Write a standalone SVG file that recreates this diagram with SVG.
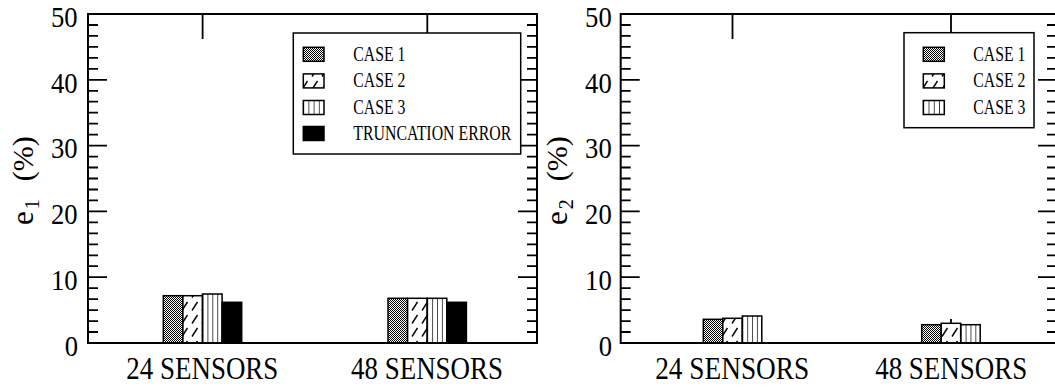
<svg xmlns="http://www.w3.org/2000/svg" xmlns:xlink="http://www.w3.org/1999/xlink" width="1055" height="391" viewBox="0 0 1055 391">
<style>
  text { font-family: "Liberation Serif", "Times New Roman", serif; fill: #000; }
  .tick { font-size: 30px; text-anchor: end; }
  .xl { font-size: 32px; text-anchor: middle; }
  .lg { font-size: 20px; }
  .frame { fill: none; stroke: #000; stroke-width: 2; }
  .tk { fill: none; stroke: #000; stroke-width: 1.8; }
  .bar { stroke: #000; stroke-width: 1.5; }
  .box { fill: #fff; stroke: #000; stroke-width: 1.5; }
</style>
<defs>
  <pattern id="pChk" width="2" height="2" patternUnits="userSpaceOnUse">
    <rect width="2" height="2" fill="#fff"/>
    <rect width="1" height="1" fill="#000"/>
    <rect x="1" y="1" width="1" height="1" fill="#000"/>
  </pattern>
  <pattern id="pDiag" width="10" height="13" patternUnits="userSpaceOnUse">
    <rect width="10" height="13" fill="#fff"/>
    <path d="M2 11.5 L7.5 3" stroke="#000" stroke-width="1.4"/>
  </pattern>
  <pattern id="pVert" x="0" y="0" width="0.25" height="1" patternUnits="objectBoundingBox">
    <rect width="30" height="400" fill="#fff"/>
    <rect x="-0.7" width="1.4" height="400" fill="#000"/>
  </pattern>
  <path id="yt" class="tk" d="M0 332h10M0 321.1h10M0 310.1h10M0 299.1h10M0 288.2h10M0 266.2h10M0 255.3h10M0 244.3h10M0 233.3h10M0 222.4h10M0 200.4h10M0 189.5h10M0 178.5h10M0 167.5h10M0 156.6h10M0 134.6h10M0 123.7h10M0 112.7h10M0 101.7h10M0 90.8h10M0 68.8h10M0 57.9h10M0 46.9h10M0 35.9h10M0 25h10M0 277.2h19M0 211.4h19M0 145.6h19M0 79.8h19"/>
</defs>
<rect width="1055" height="391" fill="#fff"/>

<!-- Left plot -->
<g id="plot-left">
  <g id="left-axes">
    <use xlink:href="#yt" href="#yt" transform="translate(88,0)"/>
    <use xlink:href="#yt" href="#yt" transform="translate(537,0) scale(-1,1)"/>
    <path class="tk" d="M202.6 14v25M427.3 14v25M202.6 343v-24M427.3 343v-24"/>
  </g>
  <g id="left-bars">
    <rect class="bar" x="163.3" y="295.7" width="19.6" height="47.3" fill="url(#pChk)"/>
    <rect class="bar" x="182.9" y="295.7" width="19.6" height="47.3" fill="url(#pDiag)"/>
    <rect class="bar" x="202.5" y="294" width="19.6" height="49" fill="url(#pVert)"/>
    <rect class="bar" x="222.1" y="302.3" width="19.6" height="40.7" fill="#000"/>
    <rect class="bar" x="388" y="298.3" width="19.6" height="44.7" fill="url(#pChk)"/>
    <rect class="bar" x="407.6" y="298.3" width="19.6" height="44.7" fill="url(#pDiag)"/>
    <rect class="bar" x="427.2" y="298.3" width="19.6" height="44.7" fill="url(#pVert)"/>
    <rect class="bar" x="446.8" y="302.3" width="19.6" height="40.7" fill="#000"/>
  </g>
  <rect class="frame" x="88" y="14" width="449" height="329"/>
  <g id="left-ticklabels">
    <text class="tick" x="77.5" y="26.7" textLength="26.6" lengthAdjust="spacingAndGlyphs">50</text>
    <text class="tick" x="77.5" y="92.5" textLength="26.6" lengthAdjust="spacingAndGlyphs">40</text>
    <text class="tick" x="77.5" y="158.3" textLength="26.6" lengthAdjust="spacingAndGlyphs">30</text>
    <text class="tick" x="77.5" y="224.1" textLength="26.6" lengthAdjust="spacingAndGlyphs">20</text>
    <text class="tick" x="77.5" y="289.9" textLength="26.6" lengthAdjust="spacingAndGlyphs">10</text>
    <text class="tick" x="78" y="355.5" textLength="13.3" lengthAdjust="spacingAndGlyphs">0</text>
    <text class="xl" x="202.3" y="378.5" textLength="152" lengthAdjust="spacingAndGlyphs">24 SENSORS</text>
    <text class="xl" x="427" y="378.5" textLength="152" lengthAdjust="spacingAndGlyphs">48 SENSORS</text>
  </g>
  <text id="left-ylabel" transform="translate(33,225) rotate(-90)" font-size="31">e<tspan font-size="20" dx="2" dy="6">1</tspan><tspan font-size="30" dx="18" dy="-6">(%)</tspan></text>
  <g id="left-legend">
    <rect class="box" x="293.3" y="33" width="227.4" height="121"/>
    <rect class="bar" x="303.3" y="47.3" width="20.7" height="14" fill="url(#pChk)"/>
    <rect class="bar" x="303.3" y="73.9" width="20.7" height="14" fill="url(#pDiag)"/>
    <rect class="bar" x="303.3" y="100.5" width="20.7" height="14" fill="url(#pVert)"/>
    <rect class="bar" x="303.3" y="126.5" width="20.7" height="14" fill="#000"/>
    <text class="lg" x="353.3" y="60.8" textLength="52" lengthAdjust="spacingAndGlyphs">CASE 1</text>
    <text class="lg" x="353.3" y="87.3" textLength="52" lengthAdjust="spacingAndGlyphs">CASE 2</text>
    <text class="lg" x="353.3" y="113.8" textLength="52" lengthAdjust="spacingAndGlyphs">CASE 3</text>
    <text class="lg" x="353.3" y="140" textLength="158" lengthAdjust="spacingAndGlyphs">TRUNCATION ERROR</text>
  </g>
</g>

<!-- Right plot -->
<g id="plot-right">
  <g id="right-axes">
    <use xlink:href="#yt" href="#yt" transform="translate(620.7,0)"/>
    <use xlink:href="#yt" href="#yt" transform="translate(1057,0) scale(-1,1)"/>
    <path class="tk" d="M732.5 14v25M951 14v25M732.5 343v-24M951 343v-24"/>
  </g>
  <g id="right-bars">
    <rect class="bar" x="703.3" y="319.3" width="19.5" height="23.7" fill="url(#pChk)"/>
    <rect class="bar" x="722.8" y="318.3" width="19.5" height="24.7" fill="url(#pDiag)"/>
    <rect class="bar" x="742.3" y="316" width="19.5" height="27" fill="url(#pVert)"/>
    <rect class="bar" x="921.7" y="324.7" width="19.5" height="18.3" fill="url(#pChk)"/>
    <rect class="bar" x="941.2" y="323.3" width="19.5" height="19.7" fill="url(#pDiag)"/>
    <rect class="bar" x="960.7" y="324.7" width="19.5" height="18.3" fill="url(#pVert)"/>
  </g>
  <rect class="frame" x="620.7" y="14" width="436.3" height="329"/>
  <g id="right-ticklabels">
    <text class="tick" x="611.7" y="26.7" textLength="26.6" lengthAdjust="spacingAndGlyphs">50</text>
    <text class="tick" x="611.7" y="92.5" textLength="26.6" lengthAdjust="spacingAndGlyphs">40</text>
    <text class="tick" x="611.7" y="158.3" textLength="26.6" lengthAdjust="spacingAndGlyphs">30</text>
    <text class="tick" x="611.7" y="224.1" textLength="26.6" lengthAdjust="spacingAndGlyphs">20</text>
    <text class="tick" x="611.7" y="289.9" textLength="26.6" lengthAdjust="spacingAndGlyphs">10</text>
    <text class="tick" x="612" y="355.5" textLength="13.3" lengthAdjust="spacingAndGlyphs">0</text>
    <text class="xl" x="732.2" y="378.5" textLength="154" lengthAdjust="spacingAndGlyphs">24 SENSORS</text>
    <text class="xl" x="951.2" y="378.5" textLength="152" lengthAdjust="spacingAndGlyphs">48 SENSORS</text>
  </g>
  <text id="right-ylabel" transform="translate(566.5,225) rotate(-90)" font-size="31">e<tspan font-size="20" dx="2" dy="6">2</tspan><tspan font-size="30" dx="18" dy="-6">(%)</tspan></text>
  <g id="right-legend">
    <rect class="box" x="904" y="32.7" width="130" height="95"/>
    <rect class="bar" x="923.3" y="47.3" width="21" height="14" fill="url(#pChk)"/>
    <rect class="bar" x="923.3" y="73.9" width="21" height="14" fill="url(#pDiag)"/>
    <rect class="bar" x="923.3" y="100.5" width="21" height="14" fill="url(#pVert)"/>
    <text class="lg" x="973.3" y="60.8" textLength="52" lengthAdjust="spacingAndGlyphs">CASE 1</text>
    <text class="lg" x="973.3" y="87.3" textLength="52" lengthAdjust="spacingAndGlyphs">CASE 2</text>
    <text class="lg" x="973.3" y="113.8" textLength="52" lengthAdjust="spacingAndGlyphs">CASE 3</text>
  </g>
</g>
</svg>
